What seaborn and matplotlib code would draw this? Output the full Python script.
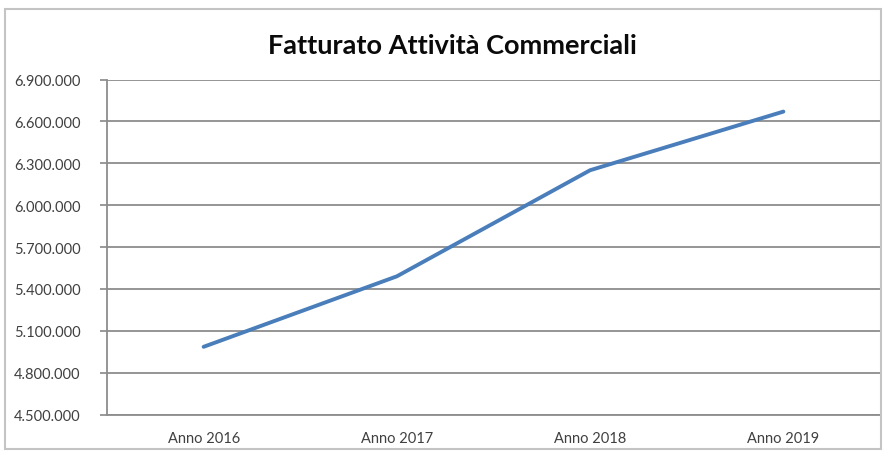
import matplotlib
matplotlib.use("Agg")
import matplotlib.pyplot as plt
import matplotlib.ticker as mticker
from matplotlib.patches import Rectangle
import seaborn as sns
import pandas as pd

categories = ["Anno 2016", "Anno 2017", "Anno 2018", "Anno 2019"]
fatturato = [4985000, 5490000, 6250000, 6670000]
y_ticks = [4500000, 4800000, 5100000, 5400000, 5700000, 6000000, 6300000, 6600000, 6900000]
title = "Fatturato Attività Commerciali"

sns.set_theme(style="white")
plt.rcParams['font.family'] = ['Lato', 'DejaVu Sans']

df = pd.DataFrame({"anno": categories, "valore": fatturato})

fig = plt.figure(figsize=(8.85, 4.52), dpi=100)
ax = fig.add_axes([107/885, 1-415.5/452, (880-107)/885, (415.5-80.5)/452])

sns.lineplot(data=df, x="anno", y="valore", ax=ax, color="#4a7ebb", linewidth=2.8, sort=False)

ax.set_xlim(-0.5, len(categories)-0.5)
ax.set_ylim(y_ticks[0], y_ticks[-1])
ax.set_yticks(y_ticks)
ax.yaxis.set_major_formatter(mticker.FuncFormatter(lambda v, p: f"{int(v):,}".replace(",", ".")))
ax.grid(axis="y", color="#8c8c8c", linewidth=1.3)
ax.set_axisbelow(True)
ax.set_xlabel("")
ax.set_ylabel("")
for s in ["top", "right"]:
    ax.spines[s].set_visible(False)
for s in ["left", "bottom"]:
    ax.spines[s].set_color("#8c8c8c")
    ax.spines[s].set_linewidth(1.3)
ax.tick_params(axis="y", left=True, length=5, color="#8c8c8c", labelsize=10.5, labelcolor="#404040", pad=14)
ax.tick_params(axis="x", bottom=False, labelsize=10.5, labelcolor="#404040", pad=6)

fig.text(452/885, 1-46/452, title, ha="center", va="center", fontsize=19.5, fontweight="bold", color="#0a0a0a")

fig.patches.append(Rectangle((5/885, 1-450/452), 876/885, 440/452, transform=fig.transFigure,
                             fill=False, edgecolor="#c4c4c4", linewidth=1.5))

fig.savefig("out.png", dpi=100)
